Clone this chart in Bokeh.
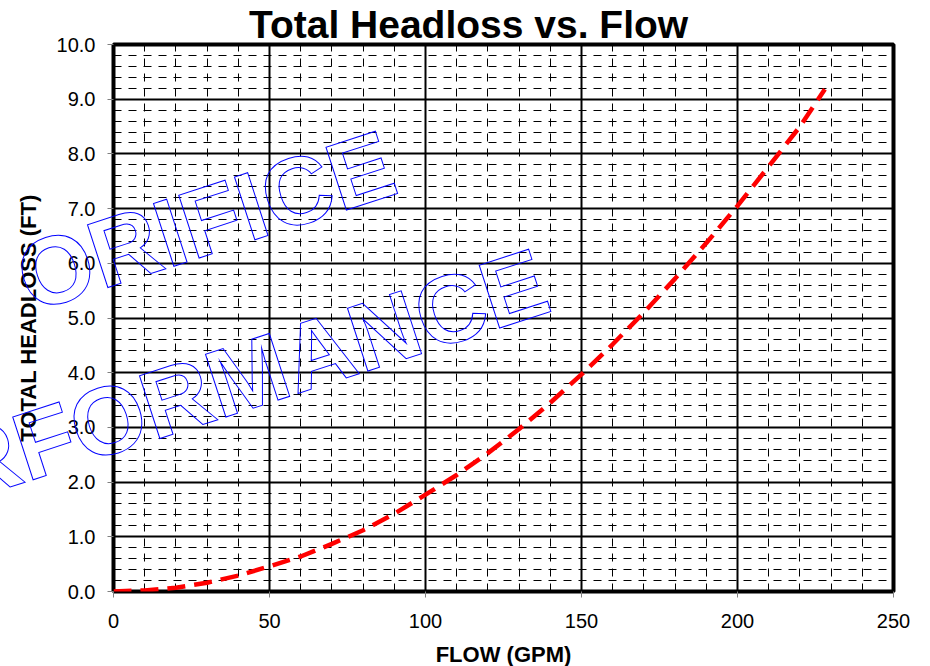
from bokeh.plotting import figure
from bokeh.models import Range1d, FixedTicker, PrintfTickFormatter
from bokeh.core.properties import value
from bokeh.embed import file_html
from bokeh.resources import INLINE

# ---- data ----
flow = [0, 10, 20, 30, 40, 50, 60, 70, 80, 90, 100, 110, 120, 130, 140, 150,
        160, 170, 180, 190, 200, 210, 220, 228]
headloss = [0.0, 0.02, 0.07, 0.16, 0.29, 0.46, 0.64, 0.87, 1.12, 1.42, 1.77,
            2.13, 2.53, 2.97, 3.45, 3.97, 4.52, 5.1, 5.72, 6.37, 7.05, 7.77,
            8.5, 9.18]
x_major = [0, 50, 100, 150, 200, 250]
x_minor = [v for v in range(0, 251, 10)]
y_major = [0, 1, 2, 3, 4, 5, 6, 7, 8, 9, 10]
y_minor = [round(i * 0.2, 1) for i in range(0, 51)]

title_text = "Total Headloss vs. Flow"
x_label = "FLOW (GPM)"
y_label = "TOTAL HEADLOSS (FT)"
watermark = ["ORIFICE", "PERFORMANCE"]

FONT = "Liberation Sans"

p = figure(width=930, height=666, output_backend="svg", toolbar_location=None,
           x_range=Range1d(0, 250), y_range=Range1d(0, 10),
           min_border_left=113, min_border_right=37,
           min_border_top=44, min_border_bottom=75)
p.background_fill_color = "white"
p.border_fill_color = "white"
p.outline_line_color = "black"
p.outline_line_width = 4

p.xaxis.ticker = FixedTicker(ticks=x_major, minor_ticks=x_minor)
p.yaxis.ticker = FixedTicker(ticks=y_major, minor_ticks=y_minor)
p.yaxis.formatter = PrintfTickFormatter(format="%.1f")

for ax in (p.xaxis, p.yaxis):
    ax.axis_line_color = None
    ax.major_tick_in = 0
    ax.major_tick_out = 6
    ax.major_tick_line_color = "#808080"
    ax.major_tick_line_width = 1
    ax.minor_tick_line_color = None
    ax.major_label_text_font = FONT
    ax.major_label_text_font_size = "20px"
    ax.major_label_text_color = "black"

p.xaxis.major_label_standoff = 16
p.yaxis.major_label_standoff = 12

p.yaxis.axis_label = y_label
p.yaxis.axis_label_text_font = FONT
p.yaxis.axis_label_text_font_style = "bold"
p.yaxis.axis_label_text_font_size = "22px"
p.yaxis.axis_label_text_color = "black"
p.yaxis.axis_label_standoff = 13

for g in (p.xgrid, p.ygrid):
    g.grid_line_color = "black"
    g.grid_line_width = 2
    g.minor_grid_line_color = "black"
    g.minor_grid_line_width = 1
    g.minor_grid_line_dash = "8 7"

p.line(flow, headloss, line_color="#FF0000", line_width=4.5, line_dash="18 9")

# watermark (outlined, transparent text)
p.text(x=[29.5], y=[6.78], text=[watermark[0]], angle=18, angle_units="deg",
       text_align="center", text_baseline="middle",
       text_font=value(FONT), text_font_style="bold", text_font_size="96px",
       text_color="rgba(255,255,255,0)", text_outline_color="#0000FF",
       level="overlay")
p.text(x=[23.4], y=[3.6], text=[watermark[1]], angle=18, angle_units="deg",
       text_align="center", text_baseline="middle",
       text_font=value(FONT), text_font_style="bold", text_font_size="96px",
       text_color="rgba(255,255,255,0)", text_outline_color="#0000FF",
       level="overlay")

# title & x label
p.text(x=[113.8], y=[10], y_offset=-20.5, text=[title_text], text_align="center",
       text_baseline="middle", text_font=value(FONT), text_font_style="bold",
       text_font_size="39px", text_color="black", level="overlay")
p.text(x=[125], y=[0], y_offset=63, text=[x_label], text_align="center",
       text_baseline="middle", text_font=value(FONT), text_font_style="bold",
       text_font_size="22px", text_color="black", level="overlay")

open("out.html", "w").write(file_html(p, INLINE))
